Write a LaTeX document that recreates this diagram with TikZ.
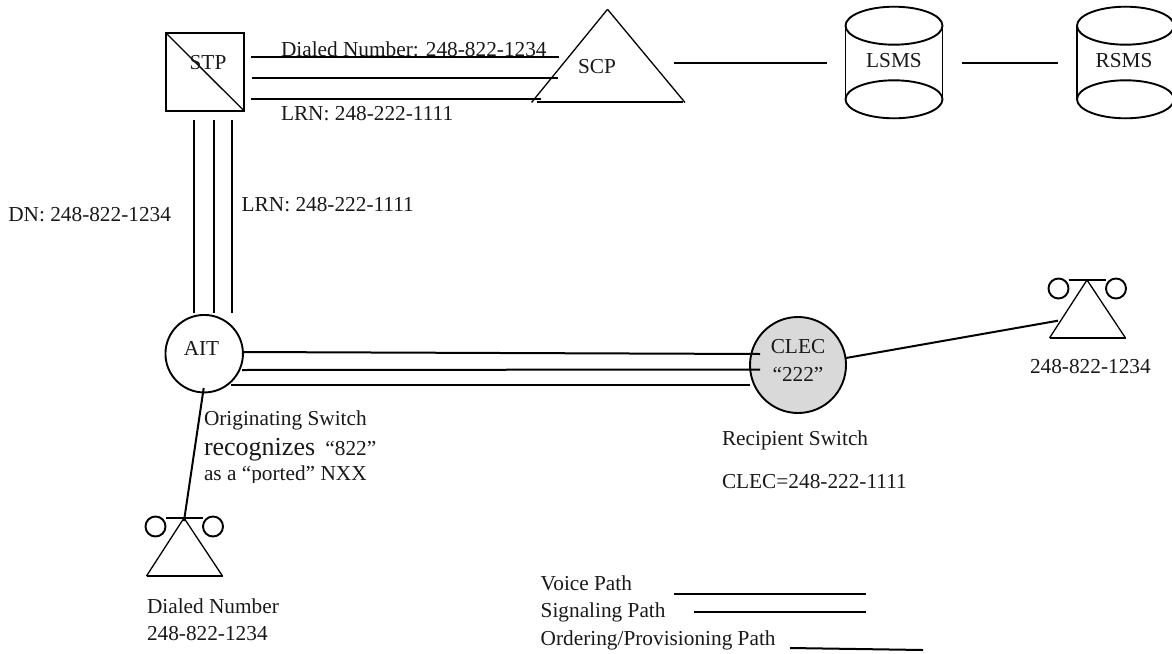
\documentclass[tikz,border=0pt]{standalone}
\usepackage{fontspec}
\setmainfont{Liberation Serif}
\tikzset{
  lbl/.style={inner sep=0pt,outer sep=0pt,anchor=base west,font=\fontsize{21.3}{25}\selectfont,text=black!90},
  ctr/.style={lbl,anchor=base},
  wire/.style={line width=2pt,black},
  shp/.style={line width=1.9pt,black},
  thin shp/.style={line width=1.3pt,black},
}
\newcommand{\phoneshape}[2]{%
  % #1 = apex x, #2 = apex y
  \draw[thin shp] (#1,#2) -- (#1-37.5,#2+58);
  \draw[thin shp] (#1,#2) -- (#1+38.5,#2+58);
  \draw[wire] (#1-37.5,#2+58) -- (#1+38.5,#2+58);
  \draw[wire] (#1-18.5,#2) -- (#1+19,#2);
  \draw[shp] (#1-28.5,#2+8.5) circle (10);
  \draw[shp] (#1+29,#2+8.5) circle (10);
}
\newcommand{\cylshape}[1]{%
  % #1 = centre x
  \draw[shp] (#1,25.7) ellipse (48.5 and 19);
  \draw[shp] (#1,99.3) ellipse (48.5 and 19);
  \draw[shp] (#1-48.5,25.7) -- (#1-48.5,99.3);
  \draw[shp] (#1+48.5,25.7) -- (#1+48.5,99.3);
}
\begin{document}
\begin{tikzpicture}[x=1pt,y=-1pt]
\useasboundingbox (0,0) rectangle (1172,653);
\fill[white] (0,0) rectangle (1172,653);

% STP
\node[draw,shp,minimum width=78.3pt,minimum height=78pt,inner sep=0pt,outer sep=0pt] (stp) at (204.8,71.7) {};
\draw[thin shp] (stp.north west) -- (stp.south east);
\node[ctr] (stptxt) at (208,69) {STP};

% SCP
\coordinate (scpA) at (607.5,9.3);
\coordinate (scpB) at (531.5,102.5);
\coordinate (scpC) at (685,102.5);
\draw[thin shp] (scpA) -- (scpB);
\draw[thin shp] (scpA) -- (scpC);
\draw[wire] (537,101.7) -- (683,101.7);
\node[ctr] (scptxt) at (597,73) {SCP};

% Databases
\cylshape{894}
\node[ctr] (lsms) at (894,67) {LSMS};
\cylshape{1125.5}
\node[ctr] (rsms) at (1124,67) {RSMS};

% top links
\coordinate (a1) at (251,56.7);  \coordinate (b1) at (559,56.7);
\coordinate (a2) at (252,77.7);  \coordinate (b2) at (558,77.7);
\coordinate (a3) at (251,98.7);  \coordinate (b3) at (541,98.7);
\draw[wire] (a1) -- (b1);
\draw[wire] (a2) -- (b2);
\draw[wire] (a3) -- (b3);
\coordinate (c1) at (674,63.3); \coordinate (d1) at (827,63.3);
\coordinate (c2) at (962,63.3); \coordinate (d2) at (1057.7,63.3);
\draw[wire] (c1) -- (d1);
\draw[wire] (c2) -- (d2);

\node[lbl] (t1) at (281,56.7) {Dialed Number: 248-822-1234};
\node[lbl] (t2) at (281,120) {LRN: 248-222-1111};

% AIT
\node[draw,shp,circle,minimum size=77.5pt,inner sep=0pt,outer sep=0pt] (ait) at (204.2,353.7) {};
\node[ctr] (aittxt) at (201.5,355) {AIT};

% Vertical links
\coordinate (v1a) at (193.7,120); \coordinate (v1b) at (193.7,313);
\coordinate (v2a) at (213.7,120); \coordinate (v2b) at (213.7,313);
\coordinate (v3a) at (231.7,120); \coordinate (v3b) at (231.7,313);
\draw[wire] (v1a) -- (v1b);
\draw[wire] (v2a) -- (v2b);
\draw[wire] (v3a) -- (v3b);
\node[lbl] (dn) at (8.3,221) {DN: 248-822-1234};
\node[lbl] (lrn) at (241.7,211) {LRN: 248-222-1111};

% CLEC
\node[draw,shp,circle,fill=black!15,minimum size=96pt,inner sep=0pt,outer sep=0pt] (clec) at (798,365) {};
\node[ctr] (cl1) at (798,353) {CLEC};
\node[ctr] (cl2) at (798,381.7) {“222”};

% horizontal links
\coordinate (h1a) at (243,352); \coordinate (h1b) at (760,354);
\coordinate (h2a) at (242,370); \coordinate (h2b) at (760,369.5);
\coordinate (h3a) at (231,385); \coordinate (h3b) at (750,385);
\draw[wire] (h1a) -- (h1b);
\draw[wire] (h2a) -- (h2b);
\draw[wire] (h3a) -- (h3b);

% right phone
\phoneshape{1087}{280}
\coordinate (p1) at (1058,320.7);
\draw[wire] (clec.east |- 0,358) -- (p1);
\node[lbl] (rp) at (1030,373) {248-822-1234};

% left phone
\phoneshape{184}{518}
\coordinate (p2) at (184,521);
\coordinate (p3) at (203.7,388);
\draw[wire] (p3) -- (p2);

\node[lbl] (o1) at (204,425) {Originating Switch};
\node[lbl] (o2) at (204,455) {{\fontsize{26}{30}\selectfont recognizes}\hspace{5pt} “822”};
\begin{scope}
\clip (200,460) rectangle (400,482.7);
\node[lbl] (o3) at (204,480.7) {as a “ported” NXX};
\end{scope}
\node[lbl] (d1t) at (147,613) {Dialed Number};
\node[lbl] (d2t) at (147,640.7) {248-822-1234};
\node[lbl] (rs) at (722,445) {Recipient Switch};
\node[lbl] (ce) at (722,488) {CLEC=248-222-1111};

% Legend
\node[lbl] (l1) at (540.7,590.7) {Voice Path};
\node[lbl] (l2) at (540.7,617.3) {Signaling Path};
\node[lbl] (l3) at (540.7,645) {Ordering/Provisioning Path};
\coordinate (k1a) at (674,593.5);   \coordinate (k1b) at (866,593.5);
\coordinate (k2a) at (694,611.7); \coordinate (k2b) at (866,611.7);
\coordinate (k3a) at (790,648);   \coordinate (k3b) at (923,650);
\draw[wire] (k1a) -- (k1b);
\draw[wire] (k2a) -- (k2b);
\draw[wire] (k3a) -- (k3b);
\end{tikzpicture}
\end{document}
